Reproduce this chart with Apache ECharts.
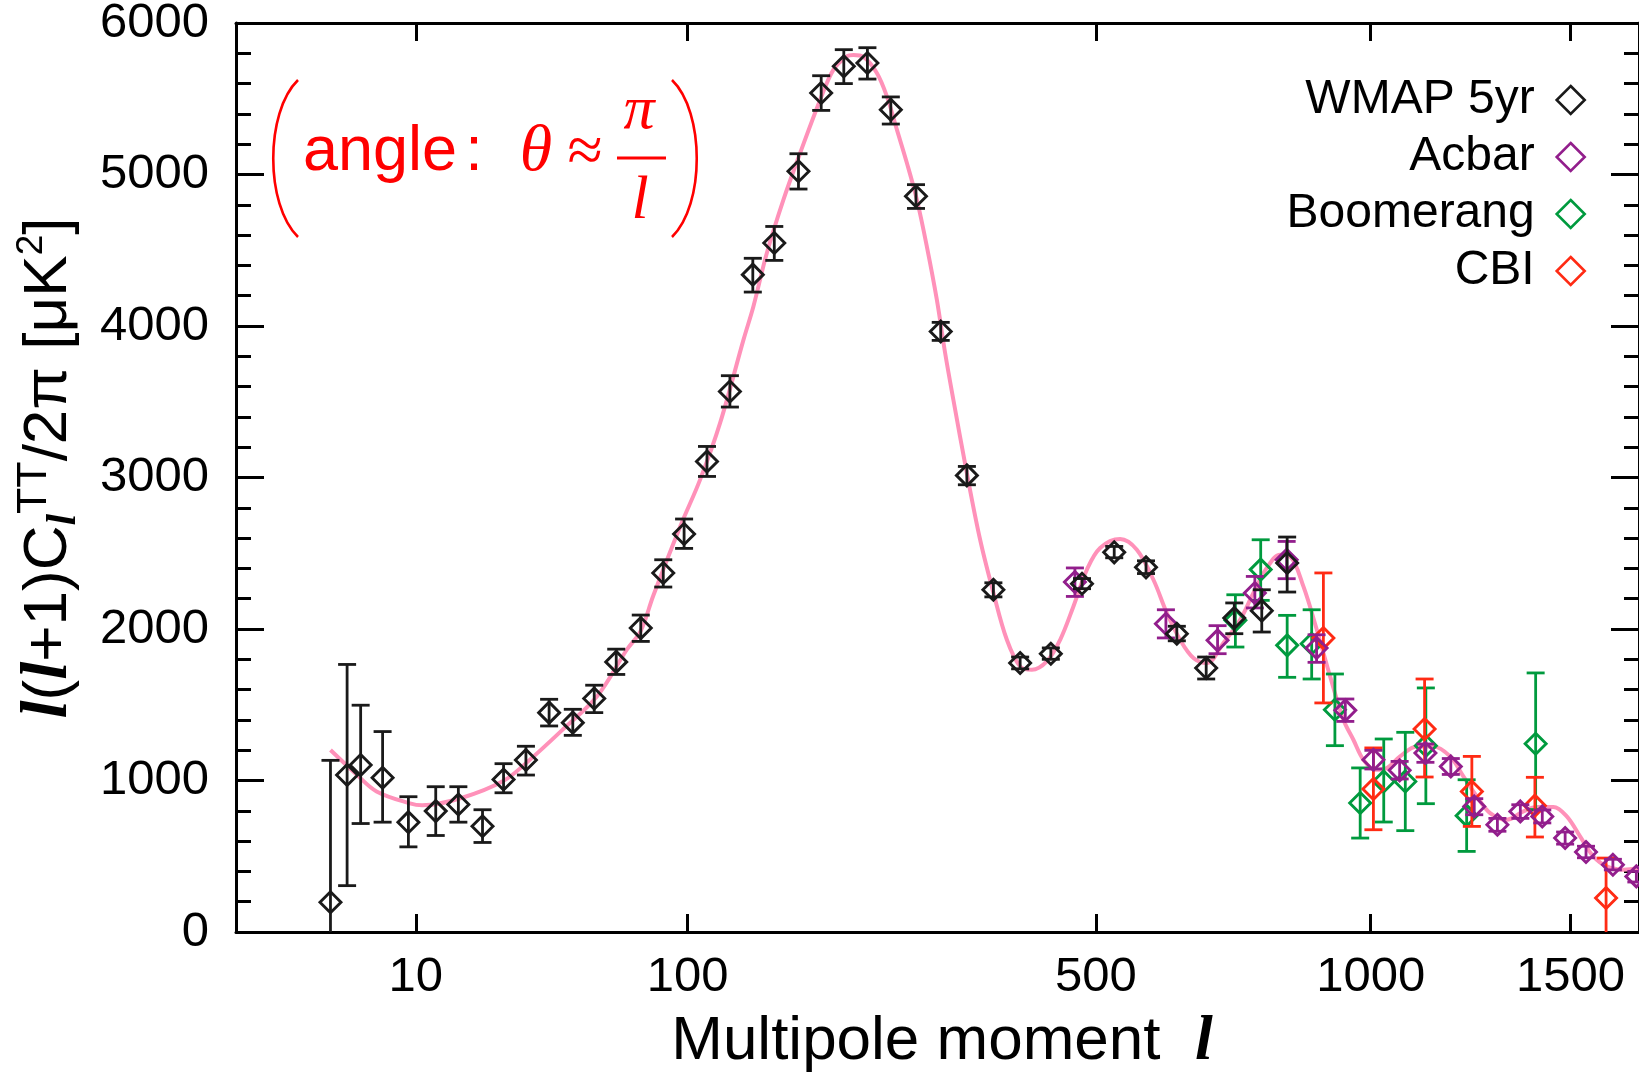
<!DOCTYPE html>
<html>
<head>
<meta charset="utf-8">
<script src="https://cdn.jsdelivr.net/npm/echarts@6/dist/echarts.min.js"></script>
<style>
html,body{margin:0;padding:0;background:#fff;}
#chart{width:1639px;height:1078px;}
</style>
</head>
<body>
<div id="chart"></div>
<script>
// ---------- data (multipole l, value in uK^2) ----------
const wmapL  = [2, 3, 4, 6, 9, 13, 17, 22, 27, 33, 40, 48, 56, 65, 76, 87, 98, 111, 125, 140, 155, 173, 191, 210, 231, 253, 278, 304, 333, 364, 397, 437, 480, 527, 576, 626, 676, 726, 777, 826];
const wmapV  = [196, 1036, 1102, 1018, 725, 798, 842, 698, 1007, 1135, 1448, 1382, 1541, 1783, 2006, 2370, 2627, 3106, 3568, 4339, 4548, 5021, 5538, 5714, 5736, 5428, 4856, 3964, 3014, 2259, 1776, 1837, 2299, 2506, 2407, 1969, 1743, 2073, 2121, 2436];
const wmapLo = [0, 306, 716, 725, 562, 637, 725, 591, 919, 1036, 1360, 1298, 1448, 1700, 1918, 2277, 2532, 3007, 3465, 4224, 4433, 4904, 5423, 5600, 5630, 5333, 4776, 3905, 2952, 2212, 1737, 1800, 2266, 2470, 2366, 1922, 1670, 1969, 1980, 2244];
const wmapHi = [1133, 1766, 1497, 1323, 893, 959, 959, 807, 1111, 1226, 1536, 1470, 1629, 1867, 2092, 2457, 2726, 3205, 3672, 4447, 4657, 5137, 5652, 5824, 5837, 5512, 4933, 4024, 3073, 2305, 1815, 1875, 2333, 2545, 2450, 2018, 1815, 2172, 2259, 2607];

const acbarL  = [470, 608, 696, 764, 825, 885, 945, 1006, 1065, 1125, 1186, 1244, 1303, 1363, 1422, 1485, 1544, 1622, 1692];
const acbarV  = [2310, 2035, 1925, 2238, 2457, 1875, 1463, 1137, 1067, 1182, 1093, 829, 708, 796, 763, 620, 528, 444, 367];
const acbarLo = [2215, 1941, 1837, 2139, 2332, 1780, 1390, 1076, 1010, 1120, 1040, 774, 665, 750, 720, 580, 490, 410, 330];
const acbarHi = [2403, 2127, 2022, 2347, 2578, 1962, 1538, 1199, 1126, 1241, 1145, 880, 750, 840, 805, 660, 566, 480, 400];

const boomL  = [728, 775, 826, 875, 923, 977, 1029, 1078, 1126, 1225, 1404];
const boomV  = [2057, 2392, 1892, 1903, 1467, 851, 994, 994, 1230, 768, 1243];
const boomLo = [1881, 2189, 1681, 1670, 1230, 620, 726, 669, 847, 532, 808];
const boomHi = [2226, 2589, 2090, 2127, 1703, 1083, 1274, 1318, 1611, 1005, 1710];

const cbiL  = [899, 1006, 1123, 1238, 1402, 1602];
const cbiV  = [1940, 944, 1340, 928, 834, 224];
const cbiLo = [1512, 675, 1023, 697, 627, 0];
const cbiHi = [2370, 1215, 1670, 1159, 1021, 488];

// best-fit model curve
const curveL = [2, 3.7, 5.4, 9.2, 10.9, 17.9, 26.9, 33.4, 44.6, 57.2, 69.6, 76, 82, 95.9, 107, 118.9, 133.8, 140.4, 149.7, 161.7, 174.3, 190.2, 201.2, 212.6, 218.4, 227.4, 239.7, 249.2, 258.9, 268.8, 278.9, 289.2, 299.8, 308.8, 317.9, 332.9, 348.3, 364.1, 380.4, 397, 412, 431.6, 449.6, 467.9, 486.9, 506.1, 535.9, 561.6, 587.8, 609.5, 631.5, 654, 677.1, 706.4, 736.7, 761.3, 786.6, 812.2, 831.8, 858.3, 885.5, 913, 941, 962.3, 984, 1009.8, 1035.9, 1066, 1104.7, 1143.9, 1184.3, 1216.9, 1250.4, 1284.2, 1327.4, 1371.2, 1407.1, 1452.4, 1489.6, 1527.1, 1565.2, 1604.1, 1653.1, 1700];
const curveV = [1201, 1038, 928, 849, 836, 888, 996, 1122, 1338, 1558, 1863, 1988, 2220, 2677, 2986, 3360, 3910, 4129, 4482, 4834, 5142, 5494, 5692, 5780, 5789, 5776, 5670, 5516, 5296, 5076, 4834, 4526, 4174, 3820, 3510, 3030, 2589, 2238, 1929, 1753, 1731, 1786, 1929, 2149, 2391, 2535, 2594, 2523, 2325, 2106, 1929, 1809, 1776, 1908, 2061, 2238, 2403, 2490, 2479, 2281, 1995, 1687, 1401, 1269, 1137, 1071, 1082, 1159, 1225, 1225, 1159, 1027, 895, 785, 741, 796, 825, 825, 763, 631, 499, 433, 411, 422];

const xTickL = [10, 100, 500, 1000, 1500];
const xMaxL = 1700;
const yMin = 0, yMax = 6000, yStep = 1000;

// ---------- axis transform: x is drawn proportional to l^0.4 ----------
const P = 0.4;
const toU = l => Math.pow(l, P);
const fromU = u => Math.pow(u, 1 / P);
const xTicksU = xTickL.map(toU);

const C_BLACK = '#1a1a1a', C_PURPLE = '#921e8c', C_GREEN = '#009a3e', C_RED = '#ff2b14', C_PINK = '#ff91b9';
const SANS = 'Liberation Sans', SERIF = 'Liberation Serif';

function pts(L, V) { return L.map((l, i) => [toU(l), V[i]]); }
function bars(L, LO, HI) { return L.map((l, i) => [toU(l), LO[i], HI[i]]); }

function errSeries(name, L, LO, HI, color, z) {
  return {
    type: 'custom', name: name + ' err', z: z, clip: true, silent: true,
    data: bars(L, LO, HI),
    encode: { x: 0, y: [1, 2] },
    renderItem: function (params, api) {
      const u = api.value(0), lo = api.value(1), hi = api.value(2);
      const a = api.coord([u, lo]), b = api.coord([u, hi]);
      const hw = 9, st = { stroke: color, lineWidth: 2.8 };
      const ch = [
        { type: 'line', shape: { x1: a[0], y1: a[1], x2: b[0], y2: b[1] }, style: st },
        { type: 'line', shape: { x1: b[0] - hw, y1: b[1], x2: b[0] + hw, y2: b[1] }, style: st }
      ];
      if (lo > 0) ch.push({ type: 'line', shape: { x1: a[0] - hw, y1: a[1], x2: a[0] + hw, y2: a[1] }, style: st });
      return { type: 'group', children: ch };
    }
  };
}
function ptSeries(name, L, V, color, z) {
  return {
    type: 'scatter', name: name, z: z, symbol: 'diamond', symbolSize: 21,
    data: pts(L, V),
    itemStyle: { color: 'rgba(0,0,0,0)', borderColor: color, borderWidth: 2.9, opacity: 1 },
    emphasis: { disabled: true }
  };
}

const chart = echarts.init(document.getElementById('chart'), null, { renderer: 'canvas' });

const tickStyle = { color: '#000', width: 3 };
const option = {
  animation: false,
  backgroundColor: '#fff',
  grid: { left: 236, right: 0, top: 23, bottom: 146, containLabel: false, outerBoundsMode: 'none' },
  legend: {
    data: ['WMAP 5yr', 'Acbar', 'Boomerang', 'CBI'],
    orient: 'vertical', right: 48, top: 71, align: 'right',
    itemWidth: 28, itemHeight: 28, itemGap: 9, selectedMode: false,
    itemStyle: { borderWidth: 2.6 },
    textStyle: { fontFamily: SANS, fontSize: 48, color: '#000', padding: [0, 17, 0, 0] }
  },
  xAxis: [{
    type: 'value', position: 'bottom', min: 0, max: toU(xMaxL),
    axisLine: { show: true, onZero: false, lineStyle: { color: '#000', width: 3 } },
    axisTick: { show: true, inside: true, length: 18, customValues: xTicksU, lineStyle: tickStyle },
    axisLabel: {
      show: true, customValues: xTicksU, margin: 21,
      fontFamily: SANS, fontSize: 49, color: '#000',
      formatter: v => String(Math.round(fromU(v)))
    },
    splitLine: { show: false }
  }, {
    type: 'value', position: 'top', min: 0, max: toU(xMaxL),
    axisLine: { show: true, onZero: false, lineStyle: { color: '#000', width: 3 } },
    axisTick: { show: true, inside: true, length: 18, customValues: xTicksU, lineStyle: tickStyle },
    axisLabel: { show: false },
    splitLine: { show: false }
  }],
  yAxis: [{
    type: 'value', position: 'left', min: yMin, max: yMax, interval: yStep,
    axisLine: { show: true, onZero: false, lineStyle: { color: '#000', width: 3 } },
    axisTick: { show: true, inside: true, length: 28, lineStyle: tickStyle },
    minorTick: { show: true, splitNumber: 5, length: 15, lineStyle: tickStyle },
    axisLabel: { show: true, margin: 27, fontFamily: SANS, fontSize: 49, color: '#000', formatter: v => String(v) },
    splitLine: { show: false }, minorSplitLine: { show: false }
  }, {
    type: 'value', position: 'right', min: yMin, max: yMax, interval: yStep,
    axisLine: { show: true, onZero: false, lineStyle: { color: '#000', width: 3 } },
    axisTick: { show: true, inside: true, length: 28, lineStyle: tickStyle },
    minorTick: { show: true, splitNumber: 5, length: 15, lineStyle: tickStyle },
    axisLabel: { show: false },
    splitLine: { show: false }, minorSplitLine: { show: false }
  }],
  series: [
    {
      type: 'line', name: 'model', z: 1, data: pts(curveL, curveV), smooth: 0.35,
      showSymbol: false, silent: true,
      lineStyle: { color: C_PINK, width: 4 }
    },
    errSeries('Boomerang', boomL, boomLo, boomHi, C_GREEN, 2),
    ptSeries('Boomerang', boomL, boomV, C_GREEN, 3),
    errSeries('CBI', cbiL, cbiLo, cbiHi, C_RED, 4),
    ptSeries('CBI', cbiL, cbiV, C_RED, 5),
    errSeries('Acbar', acbarL, acbarLo, acbarHi, C_PURPLE, 6),
    ptSeries('Acbar', acbarL, acbarV, C_PURPLE, 7),
    errSeries('WMAP 5yr', wmapL, wmapLo, wmapHi, C_BLACK, 8),
    ptSeries('WMAP 5yr', wmapL, wmapV, C_BLACK, 9)
  ],
  graphic: [
    // y-axis title
    {
      type: 'text', x: 49, y: 468, rotation: Math.PI / 2, z: 100,
      style: {
        text: '{b|l}{n|(}{b|l}{n|+1)C}{sub|l}{sup|TT}{n|/2π [μK}{sup2|2}{n|]}',
        align: 'center', verticalAlign: 'middle', textAlign: 'center', textVerticalAlign: 'middle',
        fill: '#000',
        rich: {
          b: { fontFamily: SERIF, fontStyle: 'italic', fontWeight: 'bold', fontSize: 65, lineHeight: 72, verticalAlign: 'middle', fill: '#000' },
          n: { fontFamily: SANS, fontSize: 62, lineHeight: 72, verticalAlign: 'middle', fill: '#000' },
          sub: { fontFamily: SERIF, fontStyle: 'italic', fontWeight: 'bold', fontSize: 42, lineHeight: 30, verticalAlign: 'bottom', fill: '#000' },
          sup: { fontFamily: SANS, fontSize: 43, lineHeight: 43, verticalAlign: 'top', fill: '#000' },
          sup2: { fontFamily: SANS, fontSize: 37, lineHeight: 37, verticalAlign: 'top', fill: '#000' }
        }
      }
    },
    // x-axis title
    {
      type: 'text', x: 942, y: 1042, z: 100,
      style: {
        text: '{n|Multipole moment  }{b|l}',
        align: 'center', verticalAlign: 'middle', textAlign: 'center', textVerticalAlign: 'middle',
        fill: '#000',
        rich: {
          n: { fontFamily: SANS, fontSize: 62, lineHeight: 70, verticalAlign: 'middle', fill: '#000' },
          b: { fontFamily: SERIF, fontStyle: 'italic', fontWeight: 'bold', fontSize: 64, lineHeight: 70, verticalAlign: 'middle', fill: '#000' }
        }
      }
    },
    // annotation: (angle : theta ~ pi / l)
    {
      type: 'bezierCurve', z: 100,
      shape: { x1: 298, y1: 80, cpx1: 265, cpy1: 112, cpx2: 265, cpy2: 205, x2: 298, y2: 237 },
      style: { stroke: '#ff0000', lineWidth: 2.6, fill: null }
    },
    {
      type: 'bezierCurve', z: 100,
      shape: { x1: 672, y1: 80, cpx1: 705, cpy1: 112, cpx2: 705, cpy2: 205, x2: 672, y2: 237 },
      style: { stroke: '#ff0000', lineWidth: 2.6, fill: null }
    },
    {
      type: 'text', x: 303, y: 153, z: 100,
      style: { text: 'angle', fontFamily: SANS, fontSize: 63, fill: '#ff0000', align: 'left', verticalAlign: 'middle', textAlign: 'left', textVerticalAlign: 'middle' }
    },
    {
      type: 'text', x: 474, y: 153, z: 100,
      style: { text: ':', fontFamily: SANS, fontSize: 63, fill: '#ff0000', align: 'center', verticalAlign: 'middle', textAlign: 'center', textVerticalAlign: 'middle' }
    },
    {
      type: 'text', x: 536, y: 153, z: 100,
      style: { text: 'θ', fontFamily: SERIF, fontStyle: 'italic', fontSize: 66, fill: '#ff0000', align: 'center', verticalAlign: 'middle', textAlign: 'center', textVerticalAlign: 'middle' }
    },
    {
      type: 'text', x: 585, y: 154, z: 100,
      style: { text: '≈', fontFamily: SERIF, fontSize: 64, fill: '#ff0000', align: 'center', verticalAlign: 'middle', textAlign: 'center', textVerticalAlign: 'middle' }
    },
    {
      type: 'text', x: 639, y: 112, z: 100,
      style: { text: 'π', fontFamily: SERIF, fontStyle: 'italic', fontSize: 62, fill: '#ff0000', align: 'center', verticalAlign: 'middle', textAlign: 'center', textVerticalAlign: 'middle' }
    },
    {
      type: 'line', z: 100,
      shape: { x1: 617, y1: 158, x2: 666, y2: 158 },
      style: { stroke: '#ff0000', lineWidth: 3 }
    },
    {
      type: 'text', x: 640, y: 202, z: 100,
      style: { text: 'l', fontFamily: SERIF, fontStyle: 'italic', fontSize: 62, fill: '#ff0000', align: 'center', verticalAlign: 'middle', textAlign: 'center', textVerticalAlign: 'middle' }
    }
  ]
};
chart.setOption(option);
</script>
</body>
</html>
